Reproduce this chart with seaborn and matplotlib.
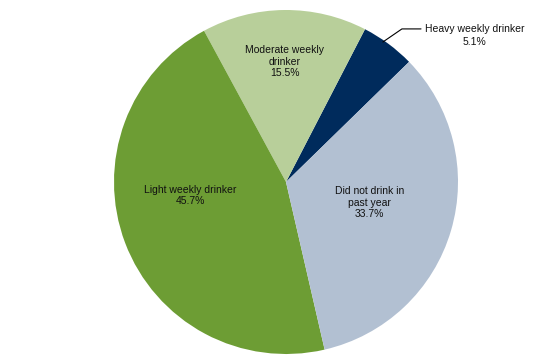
import matplotlib
matplotlib.use("Agg")
import numpy as np
import seaborn as sns
import matplotlib.pyplot as plt

categories = ["Heavy weekly drinker", "Moderate weekly\ndrinker", "Light weekly drinker", "Did not drink in\npast year"]
values = [5.1, 15.5, 45.7, 33.7]
colors = ["#002B5C", "#B8CF9A", "#6D9D34", "#B2C0D2"]

sns.set_theme(style="white")
plt.rcParams['font.family'] = ['Liberation Sans', 'DejaVu Sans']

fig = plt.figure(figsize=(5.6, 3.56), dpi=100)
ax = fig.add_axes([114 / 560, 2 / 356, 344 / 560, 344 / 356])

wedges, _ = ax.pie(values, colors=colors, startangle=44.3, counterclock=True,
                   radius=1.0, wedgeprops=dict(linewidth=0))
ax.set_xlim(-1, 1)
ax.set_ylim(-1, 1)
ax.set_aspect('equal')
ax.axis('off')

# label spots (radius fraction, angle in degrees) for the inside labels
spots = {1: (0.70, 90.5), 2: (0.56, 188.0), 3: (0.50, 346.0)}
for i, (r, a) in spots.items():
    x = r * np.cos(np.radians(a))
    y = r * np.sin(np.radians(a))
    ax.text(x, y, f"{categories[i]}\n{values[i]}%", ha='center', va='center',
            fontsize=7.5, color='#111111', linespacing=1.2)

# leader line for the small slice
w = wedges[0]
mid = np.radians(w.theta1 + (w.theta2 - w.theta1) * 0.6)
px, py = np.cos(mid), np.sin(mid)
ax.plot([px * 0.99, 0.674, 0.785], [py * 0.99, 0.89, 0.89], color='black',
        lw=0.8, clip_on=False)
ax.text(1.095, 0.89, categories[0], ha='center', va='center', fontsize=7.5,
        color='#111111')
ax.text(1.095, 0.815, f"{values[0]}%", ha='center', va='center', fontsize=7.5,
        color='#111111')

fig.savefig("out.png", dpi=100)
